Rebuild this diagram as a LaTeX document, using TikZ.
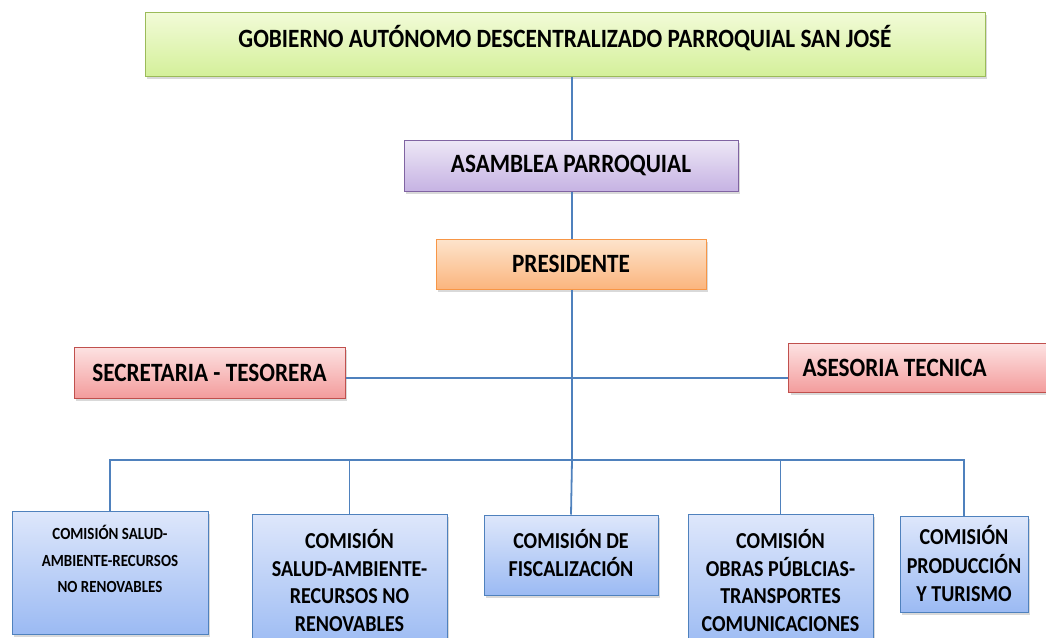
\documentclass[tikz,border=0pt]{standalone}
\usepackage{fontspec}
\setmainfont[FakeStretch=0.88]{Carlito}
\usetikzlibrary{shadows}
\definecolor{linea}{HTML}{4F81BD}
\definecolor{verdeborde}{HTML}{9BBB59}
\definecolor{moradoborde}{HTML}{8064A2}
\definecolor{naranjaborde}{HTML}{F79646}
\definecolor{rojoborde}{HTML}{C0504D}

\begin{document}
\begin{tikzpicture}[x=1pt,y=-1pt,
  caja/.style={draw,line width=1pt,align=center,font=\bfseries,inner sep=0pt,
    drop shadow={shadow xshift=2pt,shadow yshift=-2.5pt,opacity=.3}},
  verde/.style={caja,draw=verdeborde,top color={rgb,255:red,242;green,251;blue,216},bottom color={rgb,255:red,212;green,240;blue,154}},
  morado/.style={caja,draw=moradoborde,top color={rgb,255:red,237;green,231;blue,246},bottom color={rgb,255:red,198;green,179;blue,227}},
  naranja/.style={caja,draw=naranjaborde,top color={rgb,255:red,253;green,228;blue,204},bottom color={rgb,255:red,251;green,181;blue,126}},
  rojo/.style={caja,draw=rojoborde,top color={rgb,255:red,253;green,226;blue,226},bottom color={rgb,255:red,243;green,156;blue,156}},
  azul/.style={caja,draw=linea,top color={rgb,255:red,222;green,231;blue,251},bottom color={rgb,255:red,155;green,186;blue,243}},
  grande/.style={font=\bfseries\fontsize{26.4}{30}\selectfont},
  enlace/.style={draw=linea,line width=1.8pt}]
  \useasboundingbox (0,0) rectangle (1046,637);

  \node[verde,minimum width=840,minimum height=64,grande,text depth=15pt] (gad) at (565,44)
    {GOBIERNO AUTÓNOMO DESCENTRALIZADO PARROQUIAL SAN JOSÉ};
  \node[morado,minimum width=334,minimum height=51,grande] (asam) at (571,165.5)
    {ASAMBLEA PARROQUIAL};
  \node[naranja,minimum width=270,minimum height=50,grande] (pres) at (571,264)
    {PRESIDENTE};
  \node[rojo,minimum width=271,minimum height=51,grande] (secre) at (209.5,372.5)
    {SECRETARIA - TESORERA};
  \node[rojo,anchor=north west,minimum width=270,minimum height=49,text width=244,align=flush left,
    inner xsep=14pt,grande] (ases) at (788,343)
    {ASESORIA TECNICA};

  \node[azul,minimum width=196,minimum height=123,font=\bfseries\fontsize{17}{26.5}\selectfont] (com1) at (110,572.5)
    {COMISIÓN SALUD-\\AMBIENTE-RECURSOS\\NO RENOVABLES\\~};
  \node[azul,minimum width=195,minimum height=136,text depth=3pt,font=\bfseries\fontsize{22.8}{27.8}\selectfont] (com2) at (349.5,582)
    {COMISIÓN\\SALUD-AMBIENTE-\\RECURSOS NO\\RENOVABLES};
  \node[azul,minimum width=174,minimum height=80,text depth=5pt,font=\bfseries\fontsize{22.8}{28}\selectfont] (com3) at (571,555)
    {COMISIÓN DE\\FISCALIZACIÓN};
  \node[azul,minimum width=185,minimum height=136,text depth=3pt,font=\bfseries\fontsize{22.8}{27.8}\selectfont] (com4) at (780.5,582)
    {COMISIÓN\\OBRAS PÚBLCIAS-\\TRANSPORTES\\COMUNICACIONES};
  \node[azul,minimum width=128,minimum height=96,font=\bfseries\fontsize{22.8}{28.5}\selectfont] (com5) at (964,564)
    {COMISIÓN\\PRODUCCIÓN\\Y TURISMO};

  \coordinate (cruce) at (572,378);
  \coordinate (bus) at (572,460);

  \draw[enlace] (gad.south -| cruce) -- (asam.north -| cruce);
  \draw[enlace] (asam.south -| cruce) -- (pres.north -| cruce);
  \draw[enlace] (pres.south -| cruce) -- (bus);
  \draw[enlace] (secre.east |- cruce) -- (ases.west |- cruce);
  \draw[enlace] (com1.north) -- (com1.north |- bus) -- (com5.north |- bus) -- (com5.north);
  \draw[enlace] (com2.north) -- (com2.north |- bus);
  \draw[enlace] (bus) -- (com3.north);
  \draw[enlace] (com4.north) -- (com4.north |- bus);
\end{tikzpicture}
\end{document}
